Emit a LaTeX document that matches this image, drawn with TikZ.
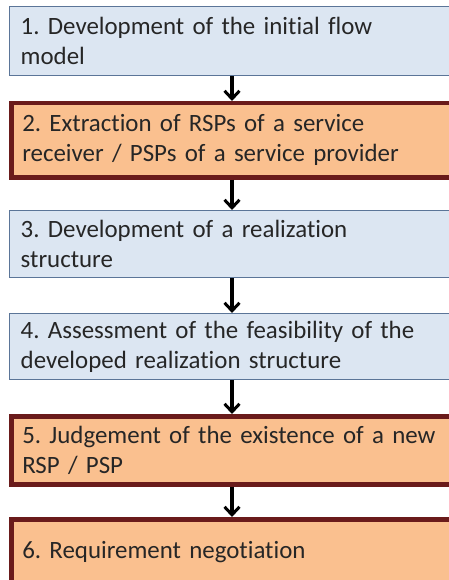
\documentclass[tikz,border=0pt]{standalone}
\usepackage{fontspec}
\setmainfont{Carlito}[Ligatures=NoCommon]
\usetikzlibrary{arrows.meta}
\definecolor{stepblue}{HTML}{DCE6F2}
\definecolor{stepblueline}{HTML}{5B7598}
\definecolor{steporange}{HTML}{FAC08F}
\definecolor{stepredline}{HTML}{6A1B1B}
\frenchspacing

\begin{document}
\begin{tikzpicture}[x=1pt,y=-1pt,line width=3.2pt,>={Straight Barb[length=8pt,width=15pt,line width=3pt]},
  stepbase/.style={rectangle,anchor=north west,text width=440pt,align=left,
    inner xsep=11pt,inner ysep=0pt,text=black!85,font=\fontsize{24.9}{30}\selectfont},
  bluebox/.style={stepbase,fill=stepblue,draw=stepblueline,line width=1.4pt},
  redbox/.style={stepbase,fill=steporange,draw=stepredline,line width=4.5pt}]
\useasboundingbox (0,0) rectangle (448,580);
% ---------- the six steps ----------
\foreach \n/\y/\h/\kind/\txt in {
  1/6/69/bluebox/{1. Development of the initial flow\\model},
  2/101/74/redbox/{2. Extraction of RSPs of a service\\receiver / PSPs of a service provider},
  3/210/67/bluebox/{3. Development of a realization\\structure},
  4/313/66/bluebox/{4. Assessment of the feasibility of the\\developed realization structure},
  5/414/68/redbox/{5. Judgement of the existence of a new\\RSP / PSP},
  6/517/66/redbox/{6. Requirement negotiation}}{
  \node[\kind,minimum height=\h] (s\n) at (9,\y) {\txt};
}
% ---------- arrows between the steps ----------
\foreach \a/\b in {1/2,2/3,3/4,4/5,5/6}{
  \draw[->] (s\a.south -| 232,0) -- (s\b.north -| 232,0);
}
\end{tikzpicture}
\end{document}
